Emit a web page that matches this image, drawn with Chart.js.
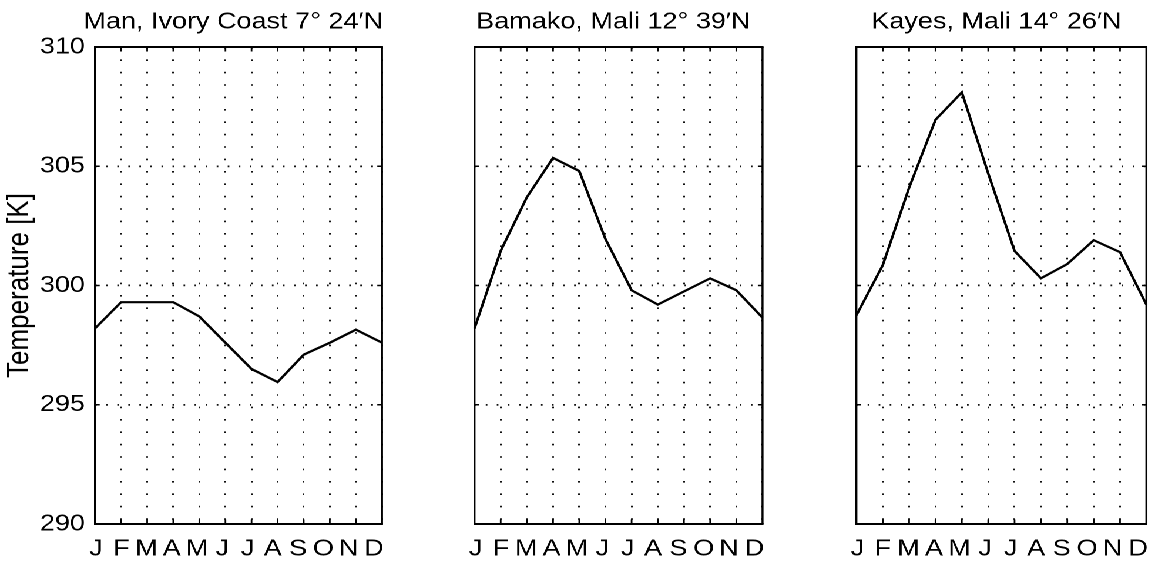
<!DOCTYPE html>
<html>
<head>
<meta charset="utf-8">
<script src="https://cdn.jsdelivr.net/npm/chart.js@4/dist/chart.umd.min.js"></script>
<style>
  html, body { margin: 0; padding: 0; background: #fff; overflow: hidden; width: 1162px; height: 566px; }
  #stage { position: absolute; left: 0; top: 0; height: 566px; transform-origin: 0 0; }
  #stage canvas { position: absolute; top: 0; }
</style>
</head>
<body>
<div id="stage"></div>
<script>
// Monthly mean near-surface temperature [K] at three West African stations
const months = ['J', 'F', 'M', 'A', 'M', 'J', 'J', 'A', 'S', 'O', 'N', 'D'];
const stations = ['Man, Ivory Coast 7° 24′N', 'Bamako, Mali 12° 39′N', 'Kayes, Mali 14° 26′N'];
const manTemps    = [298.2, 299.3, 299.3, 299.3, 298.7, 297.6, 296.5, 295.95, 297.1, 297.6, 298.15, 297.6];
const bamakoTemps = [298.2, 301.45, 303.7, 305.35, 304.8, 301.95, 299.8, 299.2, 299.75, 300.3, 299.8, 298.65];
const kayesTemps  = [298.75, 300.85, 304.1, 306.95, 308.1, 304.7, 301.45, 300.3, 300.9, 301.9, 301.4, 299.2];
const tempTicks   = [290, 295, 300, 305, 310];
const yAxisLabel  = 'Temperature [K]';

const series = [manTemps, bamakoTemps, kayesTemps];

// The figure is laid out in a narrower frame and widened by SX,
// which gives the lettering its broad, print-like proportions.
const SX = 1.175;
const FONT = "'Liberation Sans', Arial, Helvetica, sans-serif";
const panelX = [[95, 382], [474, 762], [856, 1146]];   // plot box edges on the page
const PANEL_TOP = 47, PANEL_BOTTOM = 524, PAGE_H = 566;
const MARGIN = 95 / SX;                                   // left strip of each canvas
const TITLE_SHIFT = 5 / SX;                               // titles sit slightly left of centre
// month letters are set as an evenly spaced row that ends flush with the box
const LABEL_MIN = -0.04, LABEL_MAX = 11.32;

const stage = document.getElementById('stage');
stage.style.width = (1162 / SX) + 'px';
stage.style.transform = 'scaleX(' + SX + ')';

// closed box with short inward tick marks on all four sides
const boxPlugin = {
  id: 'box',
  afterDraw(chart) {
    const { ctx, chartArea: a, scales } = chart;
    ctx.save();
    ctx.strokeStyle = '#000';
    ctx.lineCap = 'butt';
    ctx.lineWidth = 2;
    ctx.beginPath();
    ctx.moveTo(a.left - 0.85, a.top); ctx.lineTo(a.right + 0.85, a.top);
    ctx.moveTo(a.left - 0.85, a.bottom); ctx.lineTo(a.right + 0.85, a.bottom);
    ctx.stroke();
    ctx.lineWidth = 1.7;
    ctx.beginPath();
    ctx.moveTo(a.left, a.top); ctx.lineTo(a.left, a.bottom);
    ctx.moveTo(a.right, a.top); ctx.lineTo(a.right, a.bottom);
    ctx.stroke();
    ctx.lineWidth = 1.4;
    ctx.beginPath();
    for (let i = 1; i < months.length - 1; i++) {
      const x = scales.x.getPixelForValue(i);
      ctx.moveTo(x, a.bottom); ctx.lineTo(x, a.bottom - 4.5);
      ctx.moveTo(x, a.top); ctx.lineTo(x, a.top + 4.5);
    }
    ctx.stroke();
    ctx.lineWidth = 1.6;
    ctx.beginPath();
    for (const t of tempTicks.slice(1, -1)) {
      const y = scales.y.getPixelForValue(t);
      ctx.moveTo(a.left, y); ctx.lineTo(a.left + 4, y);
      ctx.moveTo(a.right, y); ctx.lineTo(a.right - 4, y);
    }
    ctx.stroke();
    ctx.restore();
  }
};

series.forEach((temps, k) => {
  const [x0, x1] = panelX[k];
  const plotW = (x1 - x0) / SX;
  const left = x0 / SX - MARGIN;
  const width = Math.round(plotW + 2 * MARGIN - 2 * TITLE_SHIFT);
  const rightStrip = width - MARGIN - plotW;
  const canvas = document.createElement('canvas');
  canvas.width = width;
  canvas.height = PAGE_H;
  canvas.style.left = left + 'px';
  stage.appendChild(canvas);
  const first = k === 0;

  new Chart(canvas, {
    type: 'line',
    data: {
      labels: months,
      datasets: [{
        data: temps,
        borderColor: '#000',
        borderWidth: 2.2,
        pointRadius: 0,
        tension: 0,
        fill: false
      }]
    },
    options: {
      responsive: false,
      animation: false,
      devicePixelRatio: 2,
      layout: { padding: 0 },
      plugins: {
        legend: { display: false },
        tooltip: { enabled: false },
        title: {
          display: true,
          text: stations[k],
          color: '#000',
          font: { family: FONT, size: 23, weight: 'normal' },
          padding: { top: 8.2, bottom: PANEL_TOP - 8.2 - 23 * 1.2 }
        }
      },
      scales: {
        x: {
          type: 'category',
          offset: false,
          grid: { color: '#111', lineWidth: 1.5, drawTicks: false },
          border: { display: false, dash: [1.6, 10.8] },
          ticks: { display: false },
          afterFit(scale) { scale.height = 0; }
        },
        monthRow: {
          type: 'linear',
          position: 'bottom',
          min: LABEL_MIN,
          max: LABEL_MAX,
          grid: { display: false },
          border: { display: false },
          ticks: {
            stepSize: 1,
            includeBounds: false,
            autoSkip: false,
            maxRotation: 0,
            minRotation: 0,
            color: '#000',
            font: { family: FONT, size: 23 },
            padding: 3.2,
            callback: (v) => (Number.isInteger(v) && months[v] !== undefined ? months[v] : '')
          },
          afterFit(scale) { scale.height = PAGE_H - PANEL_BOTTOM; }
        },
        y: {
          min: tempTicks[0],
          max: tempTicks[tempTicks.length - 1],
          grid: { color: '#111', lineWidth: 1.7, drawTicks: false },
          border: { display: false, dash: [1.4, 8] },
          ticks: {
            display: first,
            stepSize: 5,
            color: '#000',
            font: { family: FONT, size: 23 },
            padding: 8.5
          },
          title: {
            display: first,
            text: yAxisLabel,
            color: '#000',
            font: { family: FONT, size: 26 },
            padding: 1
          },
          afterFit(scale) { scale.width = MARGIN; }
        },
        side: {
          position: 'right',
          display: true,
          ticks: { display: false },
          grid: { display: false },
          border: { display: false },
          afterFit(scale) { scale.width = rightStrip; }
        }
      }
    },
    plugins: [boxPlugin]
  });
});
</script>
</body>
</html>
